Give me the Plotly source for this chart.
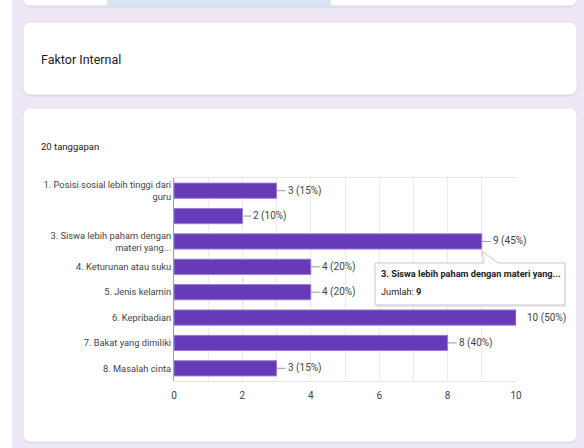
import plotly.graph_objects as go

# ---- data ----
categories = [
    "1. Posisi sosial lebih tinggi dari<br>guru",
    "",
    "3. Siswa lebih paham dengan<br>materi yang...",
    "4. Keturunan atau suku",
    "5. Jenis kelamin",
    "6. Kepribadian",
    "7. Bakat yang dimiliki",
    "8. Masalah cinta",
]
tooltip_title = "3. Siswa lebih paham dengan materi yang..."
values = [3, 2, 9, 4, 4, 10, 8, 3]
percents = [15, 10, 45, 20, 20, 50, 40, 15]
total_responses = 20
x_ticks = [0, 2, 4, 6, 8, 10]
hover_index = 2

W, H = 584, 448
FONT = "Roboto, Liberation Sans, Arial, sans-serif"
BG = "#ede7f6"
BAR = "#673ab7"
BAR_LINE = "#9b7ed3"
TXT = "#444444"
FS = 10


def px(x):
    return x / W


def py(y):
    return 1 - y / H


def rounded_rect(x0, y0, x1, y1, r):
    return (f"M {x0+r},{y0} L {x1-r},{y0} Q {x1},{y0} {x1},{y0+r} "
            f"L {x1},{y1-r} Q {x1},{y1} {x1-r},{y1} L {x0+r},{y1} "
            f"Q {x0},{y1} {x0},{y1-r} L {x0},{y0+r} Q {x0},{y0} {x0+r},{y0} Z")


def to_paper_path(path_px):
    out = []
    for tok in path_px.split(" "):
        if "," in tok:
            a, b = tok.split(",")
            out.append(f"{px(float(a)):.5f},{py(float(b)):.5f}")
        else:
            out.append(tok)
    return " ".join(out)


idx = list(range(len(categories)))

fig = go.Figure()
fig.add_trace(go.Bar(
    x=values,
    y=idx,
    orientation="h",
    width=0.6,
    marker=dict(color=BAR, line=dict(color=BAR_LINE, width=1)),
    hoverinfo="skip",
))

shapes = []
# white strip at far left
shapes.append(dict(type="rect", xref="paper", yref="paper", x0=0, x1=px(12), y0=0, y1=1,
                   fillcolor="white", line=dict(width=0), layer="below"))
# cards (with soft shadow)
cards = [(23, -20, 577, 6), (23, 22, 577, 95), (23, 108, 577, 442)]
for (x0, y0, x1, y1) in cards:
    shapes.append(dict(type="path", xref="paper", yref="paper",
                       path=to_paper_path(rounded_rect(x0, y0 + 1.5, x1, y1 + 1.5, 8)),
                       fillcolor="#dcd8e2", line=dict(width=0), layer="below"))
    shapes.append(dict(type="path", xref="paper", yref="paper",
                       path=to_paper_path(rounded_rect(x0, y0, x1, y1, 8)),
                       fillcolor="white", line=dict(color="#e4e0ea", width=1), layer="below"))
# light blue strip at top
shapes.append(dict(type="rect", xref="paper", yref="paper", x0=px(107), x1=px(331),
                   y0=py(6), y1=1, fillcolor="#d8e6f4", line=dict(width=0), layer="below"))

# tooltip callout
tip = "M 375,263 L 484,263 L 482,251 L 498,263 L 565,263 L 565,305 L 375,305 Z"
tip_shadow = "M 376,265 L 566,265 L 566,307 L 376,307 Z"
shapes.append(dict(type="path", xref="paper", yref="paper", path=to_paper_path(tip_shadow),
                   fillcolor="rgba(0,0,0,0.08)", line=dict(width=0), layer="above"))
shapes.append(dict(type="path", xref="paper", yref="paper", path=to_paper_path(tip),
                   fillcolor="white", line=dict(color="#c8c8c8", width=1), layer="above"))

annotations = []
for i, (v, p) in enumerate(zip(values, percents)):
    full = v >= x_ticks[-1]
    annotations.append(dict(
        x=v, y=i, xref="x", yref="y",
        text=f"{v} ({p}%)",
        showarrow=True, arrowhead=0, arrowwidth=1,
        arrowcolor="rgba(0,0,0,0)" if full else "#999999",
        ax=9, ay=0, xanchor="left", yanchor="middle",
        font=dict(family=FONT, size=FS, color=TXT),
    ))

annotations.append(dict(xref="paper", yref="paper", x=px(39), y=py(59), xanchor="left",
                        yanchor="middle", showarrow=False, text="Faktor Internal",
                        font=dict(family=FONT, size=12.5, color="#202124")))
annotations.append(dict(xref="paper", yref="paper", x=px(39), y=py(146), xanchor="left",
                        yanchor="middle", showarrow=False, text=f"{total_responses} tanggapan",
                        font=dict(family=FONT, size=9.5, color="#202124")))
annotations.append(dict(xref="paper", yref="paper", x=px(379), y=py(273), xanchor="left",
                        yanchor="middle", showarrow=False, text=f"<b>{tooltip_title}</b>",
                        font=dict(family=FONT, size=9.2, color="#222222")))
annotations.append(dict(xref="paper", yref="paper", x=px(379), y=py(291), xanchor="left",
                        yanchor="middle", showarrow=False,
                        text=f"Jumlah: <b>{values[hover_index]}</b>",
                        font=dict(family=FONT, size=9.2, color="#222222")))

fig.update_layout(
    width=W, height=H,
    margin=dict(l=0, r=0, t=0, b=0, autoexpand=False),
    paper_bgcolor=BG,
    plot_bgcolor="white",
    showlegend=False,
    shapes=shapes,
    annotations=annotations,
    font=dict(family=FONT, size=FS, color=TXT),
    xaxis=dict(
        domain=[px(174), px(516)],
        range=[x_ticks[0], x_ticks[-1]],
        tickvals=x_ticks,
        ticks="",
        ticklabelstandoff=5,
        automargin=False,
        showgrid=True, gridcolor="#ececec", gridwidth=1,
        minor=dict(dtick=1, showgrid=True, gridcolor="#ececec"),
        zeroline=False,
        showline=True, linecolor="#e6e6e6", mirror=True,
        tickfont=dict(family=FONT, size=FS, color=TXT),
        fixedrange=True,
    ),
    yaxis=dict(
        domain=[py(381), py(178)],
        range=[len(categories) - 0.5, -0.5],
        tickvals=idx,
        ticktext=categories,
        ticks="",
        automargin=False,
        showgrid=False,
        zeroline=False,
        showline=True, linecolor="#9e9e9e", linewidth=1,
        tickfont=dict(family=FONT, size=9.3, color=TXT),
        fixedrange=True,
    ),
)

post = (
    "document.documentElement.style.margin='0';"
    "document.documentElement.style.overflow='hidden';"
    "document.body.style.margin='0';"
    "document.body.style.overflow='hidden';"
    "document.body.style.height='448px';"
)
fig.write_html("out.html", config={"displayModeBar": False}, post_script=post)
